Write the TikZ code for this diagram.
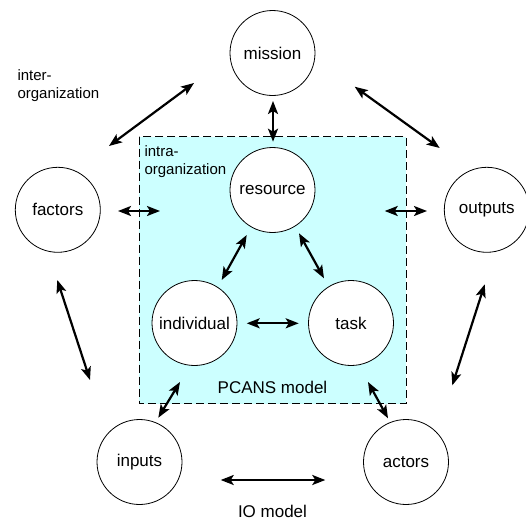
\documentclass[tikz,border=0pt]{standalone}
\usepackage{fontspec}
\setmainfont{Liberation Sans}
\usetikzlibrary{arrows.meta}
\definecolor{boxcyan}{RGB}{204,255,255}
\tikzset{
  circ/.style={circle, draw=black, line width=0.8pt, fill=white, minimum size=85pt, inner sep=0pt, font=\fontsize{17}{20}\selectfont},
  lbl/.style={font=\fontsize{15}{18}\selectfont, align=left, inner sep=0pt},
  dbl/.style={line width=2.2pt, {Stealth[length=13pt,width=10pt,inset=3pt]}-{Stealth[length=13pt,width=10pt,inset=3pt]}},
}
\begin{document}
\begin{tikzpicture}[x=1pt,y=-1pt]
\useasboundingbox (0,0) rectangle (526,522);
% PCANS box
\draw[fill=boxcyan, line width=1pt, dash pattern=on 8pt off 4pt] (139.3,136.7) rectangle (406.3,403.7);
% circles
\node[circ] (mission)    at (272.5,53)  {mission};
\node[circ] (factors)    at (57.8,209.8) {factors};
\node[circ] (outputs)    at (486.8,209.8) {outputs};
\node[circ] (resource)   at (272.5,190) {resource};
\node[circ] (individual) at (194.5,323) {individual};
\node[circ] (task)       at (351,323)   {task};
\node[circ] (inputs)     at (139.5,462) {inputs};
\node[circ] (actors)     at (406,462)   {actors};
% labels
\node[lbl, anchor=north west] (inter) at (17.3,69) {inter-\\organization};
\node[lbl, anchor=north west] (intra) at (144.3,145) {intra-\\organization};
\node[font=\fontsize{17}{20}\selectfont, inner sep=0pt] (pcans) at (272.5,387) {PCANS model};
\node[font=\fontsize{17}{20}\selectfont, inner sep=0pt] (io) at (272.5,511) {IO model};
% arrow end points
\coordinate (mr1) at (273,101);   \coordinate (mr2) at (273,141.7);
\coordinate (fx1) at (118,211);   \coordinate (fx2) at (160,211);
\coordinate (ox1) at (384.7,211); \coordinate (ox2) at (427,211);
\coordinate (fm1) at (109,146);   \coordinate (fm2) at (194,83);
\coordinate (mo1) at (354.7,86.7);\coordinate (mo2) at (439.7,148);
\coordinate (fi1) at (57.3,280);  \coordinate (fi2) at (90,380);
\coordinate (oa1) at (484.7,284.3);\coordinate (oa2) at (452.3,385.3);
\coordinate (ia1) at (220.7,480); \coordinate (ia2) at (325.3,480);
\coordinate (ri1) at (246.7,235); \coordinate (ri2) at (221.7,280);
\coordinate (rt1) at (299,233.3); \coordinate (rt2) at (324,278.3);
\coordinate (it1) at (246.7,323.3);\coordinate (it2) at (298.7,323.3);
\coordinate (ii1) at (180,382);   \coordinate (ii2) at (158.3,417.7);
\coordinate (ta1) at (368,382);   \coordinate (ta2) at (388,418.3);
% arrows
\foreach \a in {mr,fx,ox,fm,mo,fi,oa,ia,ri,rt,it,ii,ta}
  \draw[dbl] (\a1) -- (\a2);
\end{tikzpicture}
\end{document}
